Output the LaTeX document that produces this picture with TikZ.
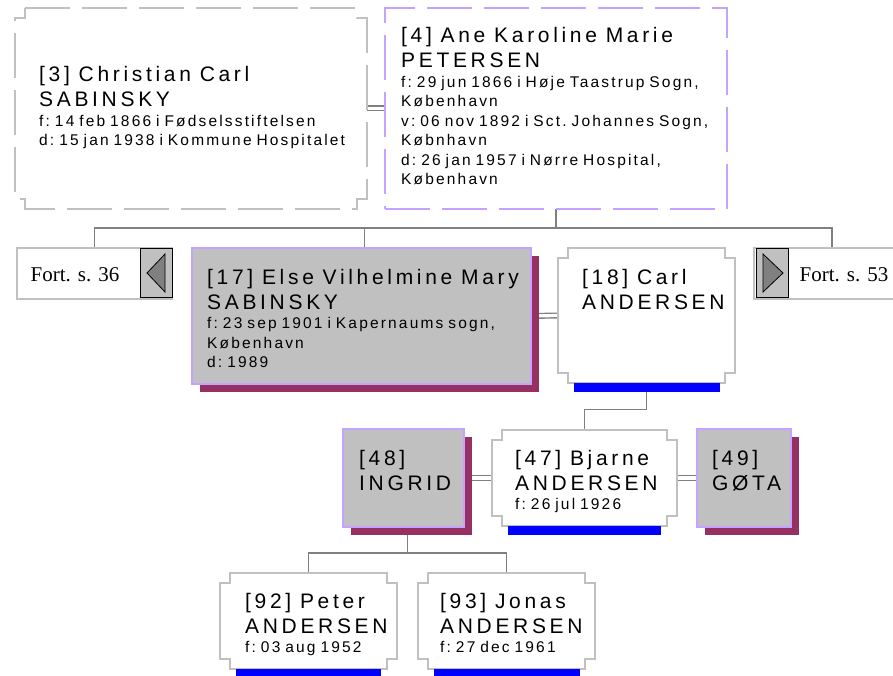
\documentclass[tikz,border=0pt]{standalone}
\usepackage{fontspec}
\setmainfont{Liberation Sans}
\newfontfamily\namefont[LetterSpace=17.5]{Liberation Sans}
\newfontfamily\datafont[LetterSpace=14]{Liberation Sans}
\newfontfamily\fortfont{Liberation Serif}
\newcommand{\nm}{\namefont\fontsize{21}{25}\selectfont\spaceskip=0.42em\relax}
\newcommand{\dt}{\datafont\fontsize{15.5}{19.5}\selectfont\spaceskip=0.32em\relax}
\usetikzlibrary{calc, positioning, shadows, backgrounds}

\definecolor{boxgray}{RGB}{192,192,192}
\definecolor{linegray}{RGB}{128,128,128}
\definecolor{lilac}{RGB}{196,162,255}
\definecolor{shadowred}{RGB}{150,48,98}

\newcommand{\notchframe}[2][draw=boxgray]{%
  \draw[line width=1.5pt, #1] ([xshift=10pt]#2.north west) -- ([xshift=-10pt]#2.north east)
    |- ([yshift=-10pt]#2.north east) -- ([yshift=10pt]#2.south east)
    -| ([xshift=-10pt]#2.south east) -- ([xshift=10pt]#2.south west)
    |- ([yshift=10pt]#2.south west) -- ([yshift=-10pt]#2.north west)
    -| ([xshift=10pt]#2.north west) -- cycle;}

\begin{document}
\begin{tikzpicture}[x=1pt, y=-1pt,
    person/.style={rectangle, anchor=north west, inner sep=0pt, outer sep=0pt},
    spouse/.style={person, fill=boxgray, draw=lilac, line width=1.3pt,
      drop shadow={shadow xshift=8pt, shadow yshift=-8pt, fill=shadowred, opacity=1}},
    bar/.style={rectangle, fill=blue, inner sep=0pt, outer sep=0pt, minimum height=8.5pt, anchor=north},
    txt/.style={anchor=base west, inner sep=0pt, text width=360pt, align=left},
    fortbox/.style={person, draw=boxgray, line width=1.5pt, minimum height=51pt},
    arrowbox/.style={person, fill=boxgray, draw=black, line width=0.8pt, minimum width=32pt, minimum height=49pt},
    forttext/.style={anchor=base, inner sep=0pt, font=\fortfont\fontsize{21}{25}\selectfont},
    wire/.style={draw=linegray, line width=1.4pt},
    marriage/.style={draw=linegray, line width=1.4pt, double=white, double distance=3.2pt}]
    \useasboundingbox (0,0) rectangle (893,676);

    \node[person, minimum width=352pt, minimum height=201pt] (p3) at (15,8) {};
    \notchframe[draw=boxgray, dash pattern=on 45pt off 12pt]{p3}
    \node[person, draw=lilac, line width=1.3pt, dash pattern=on 45pt off 12pt,
      minimum width=342pt, minimum height=201pt] (p4) at (385,8) {};

    \node[txt] (t3) at (39,82) {\nm [3] Christian Carl\\SABINSKY\par
      \dt f: 14 feb 1866 i Fødselsstiftelsen\\d: 15 jan 1938 i Kommune Hospitalet\par};
    \node[txt] (t4) at (401,43) {\nm [4] Ane Karoline Marie\\PETERSEN\par
      \dt f: 29 jun 1866 i Høje Taastrup Sogn,\\København\\v: 06 nov 1892 i Sct. Johannes Sogn,\\Købnhavn\\d: 26 jan 1957 i Nørre Hospital,\\København\par};

    \node[fortbox, minimum width=155pt] (fort36) at (17,248) {};
    \node[arrowbox] (arr36) at (140,248.5) {};
    \draw[fill=linegray, line width=0.8pt] ($(arr36.center)+(-9,0)$) -- ++(18,-19) -- ++(0,38) -- cycle;
    \node[forttext] (l36) at (75,281) {Fort. s. 36};

    \node[fortbox, minimum width=156pt] (fort53) at (754,248) {};
    \node[arrowbox] (arr53) at (756,248.5) {};
    \draw[fill=linegray, line width=0.8pt] ($(arr53.center)+(11,0)$) -- ++(-20,-19) -- ++(0,38) -- cycle;
    \node[forttext] (l53) at (844,281) {Fort. s. 53};

    \node[spouse, minimum width=339pt, minimum height=136pt] (p17) at (192,248) {};
    \node[txt] (t17) at (207,284) {\nm [17] Else Vilhelmine Mary\\SABINSKY\par
      \dt f: 23 sep 1901 i Kapernaums sogn,\\København\\d: 1989\par};

    \node[person, minimum width=177pt, minimum height=135pt] (p18) at (558,248) {};
    \notchframe{p18}
    \node[bar, minimum width=146pt] (bar18) at (p18.south) {};
    \node[txt] (t18) at (582,284) {\nm [18] Carl\\ANDERSEN\par};

    \node[spouse, minimum width=121pt, minimum height=98pt] (p48) at (343,429) {};
    \node[txt] (t48) at (359,465) {\nm [48]\\INGRID\par};

    \node[person, minimum width=185pt, minimum height=96pt] (p47) at (492,430) {};
    \notchframe{p47}
    \node[bar, minimum width=153pt] (bar47) at (p47.south) {};
    \node[txt] (t47) at (515,465) {\nm [47] Bjarne\\ANDERSEN\par\dt f: 26 jul 1926\par};

    \node[spouse, minimum width=94pt, minimum height=98pt] (p49) at (697,429) {};
    \node[txt] (t49) at (712,465) {\nm [49]\\GØTA\par};

    \node[person, minimum width=177pt, minimum height=96pt] (p92) at (220,573) {};
    \notchframe{p92}
    \node[bar, minimum width=145pt] (bar92) at (p92.south) {};
    \node[txt] (t92) at (245,608) {\nm [92] Peter\\ANDERSEN\par\dt f: 03 aug 1952\par};

    \node[person, minimum width=177pt, minimum height=96pt] (p93) at (418,573) {};
    \notchframe{p93}
    \node[bar, minimum width=146pt] (bar93) at (p93.south) {};
    \node[txt] (t93) at (440,608) {\nm [93] Jonas\\ANDERSEN\par\dt f: 27 dec 1961\par};

    \begin{scope}[on background layer]
    \draw[marriage] (p3.east) -- (p4.west);
    \coordinate (bus1) at ($(p4.south)+(0,19)$);
    \draw[wire] (p4.south) -- (bus1);
    \draw[wire] (fort36.north) |- (bus1) -| (fort53.north);
    \draw[wire] ([xshift=3pt]p17.north) |- (bus1);
    \draw[marriage] (p17.east) -- (p18.west);
    \draw[wire] (bar18.south) -- ++(0,18) -| (p47.north);
    \draw[marriage] (p48.east) -- (p47.west);
    \draw[marriage] (p47.east) -- (p49.west);
    \draw[wire] ([xshift=4pt]p48.south) -- ++(0,26) coordinate (bus2);
    \draw[wire] (p92.north) |- (bus2) -| (p93.north);
    \end{scope}
\end{tikzpicture}
\end{document}
